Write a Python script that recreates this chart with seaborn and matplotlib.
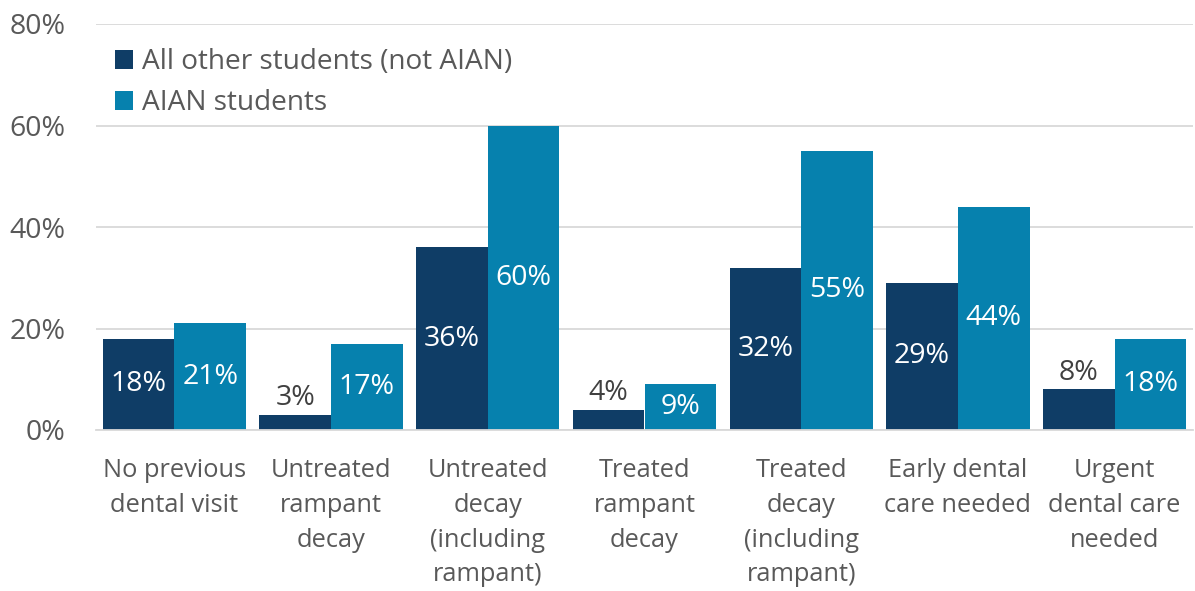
import matplotlib
matplotlib.use("Agg")
import matplotlib.pyplot as plt
import seaborn as sns
import pandas as pd
from matplotlib.ticker import FuncFormatter

categories = [
    "No previous\ndental visit",
    "Untreated\nrampant\ndecay",
    "Untreated\ndecay\n(including\nrampant)",
    "Treated\nrampant\ndecay",
    "Treated\ndecay\n(including\nrampant)",
    "Early dental\ncare needed",
    "Urgent\ndental care\nneeded",
]
series_names = ["All other students (not AIAN)", "AIAN students"]
other_values = [18, 3, 36, 4, 32, 29, 8]
aian_values = [21, 17, 60, 9, 55, 44, 18]
colors = ["#0f3d66", "#0681ae"]

df = pd.DataFrame({
    "category": categories * 2,
    "group": [series_names[0]] * len(categories) + [series_names[1]] * len(categories),
    "value": other_values + aian_values,
})

sns.set_theme(style="white")
plt.rcParams["font.family"] = ["Open Sans", "DejaVu Sans"]
text_color = "#595959"

fig = plt.figure(figsize=(11.95, 5.91), dpi=100)
ax = fig.add_axes([96 / 1195, 1 - 430 / 591, (1193 - 96) / 1195, (430 - 24) / 591])

sns.barplot(data=df, x="category", y="value", hue="group", palette=colors,
            width=0.914, saturation=1, ax=ax, order=categories, hue_order=series_names,
            linewidth=0)

ax.set_ylim(0, 80)
ax.set_yticks([0, 20, 40, 60, 80])
ax.yaxis.set_major_formatter(FuncFormatter(lambda v, p: f"{v:.0f}%"))
ax.grid(axis="y", color="#d9d9d9", linewidth=1.3)
ax.set_axisbelow(True)
for s in ["left", "right", "top"]:
    ax.spines[s].set_visible(False)
ax.spines["bottom"].set_color("#d9d9d9")
ax.spines["bottom"].set_linewidth(1.3)
ax.set_xlabel("")
ax.set_ylabel("")
ax.tick_params(axis="y", labelsize=20.5, colors=text_color, length=0, pad=22)
ax.tick_params(axis="x", labelsize=18.3, colors=text_color, length=0, pad=20)
for lab in ax.get_xticklabels():
    lab.set_linespacing(1.52)
    lab.set_verticalalignment("top")
    lab.set_horizontalalignment("center")

for container in ax.containers:
    for patch in container:
        h = patch.get_height()
        if h == 0 or pd.isna(h):
            continue
        cx = patch.get_x() + patch.get_width() / 2
        if h >= 9:
            ax.text(cx, h / 2, f"{h:.0f}%", ha="center", va="center",
                    fontsize=20.5, color="white")
        else:
            ax.text(cx, h + 0.5, f"{h:.0f}%", ha="center", va="bottom",
                    fontsize=20.5, color="#404040")

leg = ax.legend(loc="upper left", bbox_to_anchor=(19 / 1097, 1 - 24 / 406), frameon=False,
                fontsize=20.2, handlelength=0.65, handleheight=0.65,
                handletextpad=0.3, labelspacing=0.48, borderaxespad=0, borderpad=0)
for t in leg.get_texts():
    t.set_color(text_color)

fig.savefig("out.png", dpi=100)
